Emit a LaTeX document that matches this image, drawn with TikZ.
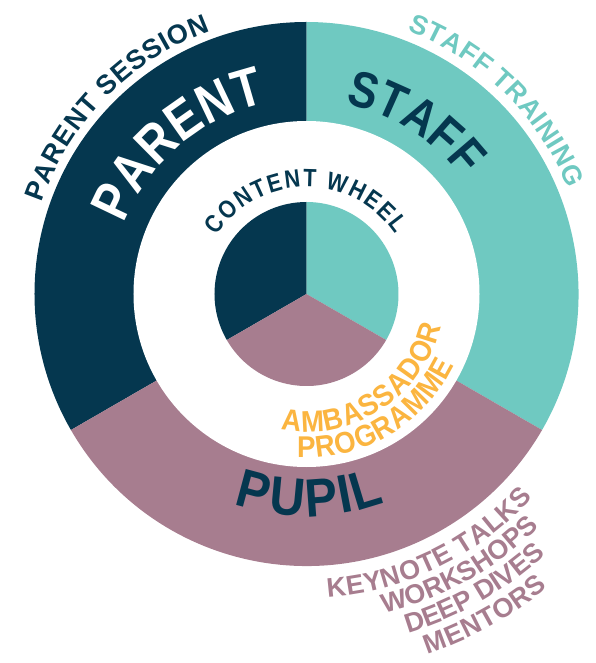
\documentclass[tikz,border=0pt]{standalone}
\usepackage{fontspec}
\setmainfont{Liberation Sans}
\usetikzlibrary{decorations.text}
\definecolor{navy}{HTML}{05374F}
\definecolor{tealc}{HTML}{6FC9C1}
\definecolor{mauve}{HTML}{A77D8F}
\definecolor{amber}{HTML}{FBB540}
% \arctext[xscale]{radius}{start}{end}{size}{colour}{text}
\newcommand{\arctext}[7][1]{%
  {\fontsize{#5}{#5}\selectfont\bfseries
  \path[decorate,decoration={text effects along path,text={#7},
      text effects/.cd,text along path,fit text to path,characters={text=#6,xscale=#1}}]
    (#3:#2pt) arc[start angle=#3,end angle=#4,radius=#2pt];}}
\begin{document}
\begin{tikzpicture}[x=1pt,y=1pt]
\useasboundingbox (-306.5,-369) rectangle (288.5,294);
% outer ring sectors
\fill[navy] (0,0) -- (90:272pt) arc[start angle=90,end angle=210,radius=272pt] -- cycle;
\fill[tealc] (0,0) -- (-30:272pt) arc[start angle=-30,end angle=90,radius=272pt] -- cycle;
\fill[mauve] (0,0) -- (210:272pt) arc[start angle=210,end angle=330,radius=272pt] -- cycle;
\fill[white] (0,0) circle[radius=173pt];
% inner pie
\fill[navy] (0,0) -- (90:92pt) arc[start angle=90,end angle=210,radius=92pt] -- cycle;
\fill[tealc] (0,0) -- (-30:92pt) arc[start angle=-30,end angle=90,radius=92pt] -- cycle;
\fill[mauve] (0,0) -- (210:92pt) arc[start angle=210,end angle=330,radius=92pt] -- cycle;
% texts
\arctext{280}{161}{110}{27}{navy}{PARENT SESSION}
\arctext{282}{69}{22}{27}{tealc}{STAFF TRAINING}
\arctext[0.85]{195}{159}{102}{55}{white}{PARENT}
\arctext[0.85]{194}{78.5}{36.7}{51}{navy}{STAFF}
\arctext[0.86]{107}{147}{34}{25}{navy}{CONTENT WHEEL}
\arctext[0.92]{138}{-100.8}{-13.4}{30}{amber}{AMBASSADOR}
\arctext[0.92]{164}{-93.3}{-25.6}{30}{amber}{PROGRAMME}
\arctext[0.9]{222.5}{-109.2}{-69.3}{54}{navy}{PUPIL}
\arctext{304}{-86}{-42}{27}{mauve}{KEYNOTE TALKS}
\arctext{329}{-76.3}{-45}{27}{mauve}{WORKSHOPS}
\arctext{354}{-73.3}{-47.5}{27}{mauve}{DEEP DIVES}
\arctext{380}{-71.4}{-50.6}{27}{mauve}{MENTORS}
\end{tikzpicture}
\end{document}
